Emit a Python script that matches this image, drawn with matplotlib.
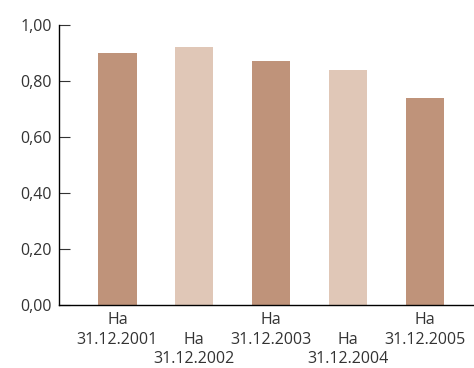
import matplotlib.pyplot as plt

plt.rcParams['font.family'] = ['Open Sans', 'DejaVu Sans']

# data
dates = ['31.12.2001', '31.12.2002', '31.12.2003', '31.12.2004', '31.12.2005']
values = [0.90, 0.92, 0.87, 0.84, 0.74]
colors = ['#bf937a', '#e0c7b7', '#bf937a', '#e0c7b7', '#bf937a']
yticks = [0.0, 0.2, 0.4, 0.6, 0.8, 1.0]

fig = plt.figure(figsize=(4.74, 3.68), dpi=100)
ax = fig.add_axes([59/474, 1-305/368, 1-59/474, (305-25)/368])

x = list(range(len(values)))
ax.bar(x, values, width=0.5, color=colors)

ax.set_ylim(0, 1.0)
ax.set_xlim(-0.76, 4.64)
ax.set_yticks(yticks)
ax.set_yticklabels([f'{v:.2f}'.replace('.', ',') for v in yticks])

labels = []
for i, d in enumerate(dates):
    if i % 2 == 0:
        labels.append('Ha\n' + d)
    else:
        labels.append('\nHa\n' + d)
ax.set_xticks(x)
ax.set_xticklabels(labels, linespacing=1.3)

ax.tick_params(axis='y', direction='in', length=8, width=0.8, pad=5,
               labelsize=11.5, colors='#333333')
ax.tick_params(axis='x', length=0, pad=5, labelsize=11.5, colors='#333333')

for s in ['top', 'right']:
    ax.spines[s].set_visible(False)
ax.spines['left'].set_linewidth(1)
ax.spines['bottom'].set_linewidth(1)

plt.savefig('out.png', dpi=100)
